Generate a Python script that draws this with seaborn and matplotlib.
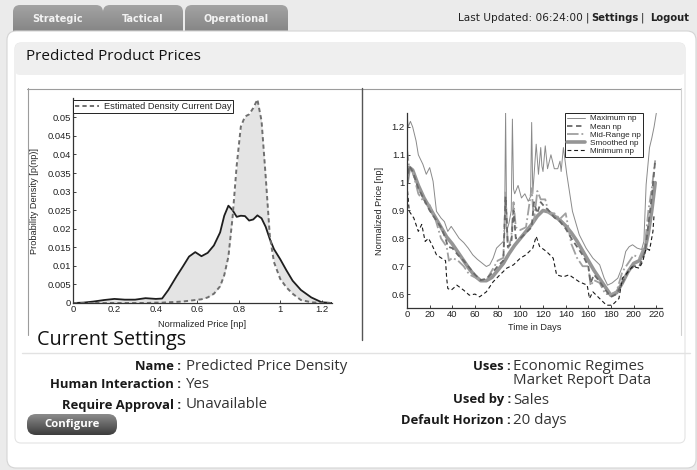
import numpy as np
import matplotlib.pyplot as plt
import seaborn as sns
from matplotlib.patches import FancyBboxPatch
from matplotlib.lines import Line2D
from matplotlib.colors import LinearSegmentedColormap

sns.set_style("white")
plt.rcParams['font.family'] = ['DejaVu Sans']

# left chart: price density, historical (solid) vs current day (dashed)
price_grid = [0, 0.05, 0.1, 0.15, 0.2, 0.25, 0.3, 0.35, 0.4, 0.43, 0.46, 0.5, 0.53, 0.56,
              0.59, 0.62, 0.65, 0.68, 0.71, 0.73, 0.75, 0.77, 0.79, 0.81, 0.83, 0.85, 0.87,
              0.89, 0.91, 0.93, 0.95, 0.97, 1.0, 1.03, 1.06, 1.1, 1.15, 1.2, 1.25]
density_history = [0, 0.0001, 0.0004, 0.0008, 0.0011, 0.0009, 0.0009, 0.0013, 0.0011, 0.0012,
                   0.0035, 0.0072, 0.0098, 0.0125, 0.0137, 0.0126, 0.0135, 0.0155, 0.019, 0.0235,
                   0.0262, 0.025, 0.0232, 0.0235, 0.0234, 0.0222, 0.0225, 0.0236, 0.0228, 0.0205,
                   0.0172, 0.0145, 0.0118, 0.0088, 0.006, 0.0035, 0.0015, 0.0002, 0]
density_current = [0, 0, 0, 0, 0, 0, 0, 0, 0.0001, 0.0001, 0.0002, 0.0003, 0.0004, 0.0006,
                   0.0008, 0.001, 0.0015, 0.0025, 0.0045, 0.0075, 0.0125, 0.023, 0.037, 0.0475,
                   0.0502, 0.0508, 0.0525, 0.0548, 0.049, 0.034, 0.018, 0.011, 0.0065, 0.0042,
                   0.0025, 0.0008, 0.0002, 0, 0]
density_yticks = [0, 0.005, 0.01, 0.015, 0.02, 0.025, 0.03, 0.035, 0.04, 0.045, 0.05]
density_ylabels = ["0", "0.005", "0.01", "0.015", "0.02", "0.025", "0.03", "0.035", "0.04", "0.045", "0.05"]
price_xticks = [0, 0.2, 0.4, 0.6, 0.8, 1.0, 1.2]
price_xlabels = ["0", "0.2", "0.4", "0.6", "0.8", "1", "1.2"]

# right chart: normalized price over time
max_days = [0, 1, 3, 5, 8, 10, 14, 17, 20, 23, 26, 30, 33, 36, 39, 42, 46, 50, 54, 58,
            62, 66, 70, 73, 76, 79, 82, 85, 86, 87, 88, 90, 92, 93, 94, 95, 98, 101, 104, 107,
            109, 110, 111, 113, 114, 116, 118, 119, 120, 122, 124, 127, 130, 133, 135, 136, 138, 141, 146, 152,
            158, 164, 170, 174, 177, 181, 186, 190, 193, 196, 199, 203, 207, 209, 211, 214, 216, 218, 220]
max_np = [1.25, 1.2, 1.22, 1.2, 1.15, 1.10, 1.066, 1.03, 1.054, 1.005, 0.897, 0.873, 0.86, 0.825, 0.843, 0.825, 0.80, 0.785, 0.765, 0.741,
          0.725, 0.712, 0.699, 0.705, 0.729, 0.765, 0.777, 0.789, 0.80, 1.25, 0.825, 0.855, 0.90, 1.228, 0.977, 0.96, 0.99, 0.945, 0.96, 0.933,
          0.95, 1.216, 0.96, 1.08, 1.138, 1.03, 1.126, 1.06, 1.04, 1.132, 1.05, 1.10, 1.05, 1.05, 1.077, 1.04, 1.126, 1.03, 0.897, 0.813,
          0.765, 0.729, 0.705, 0.657, 0.632, 0.64, 0.657, 0.699, 0.753, 0.77, 0.777, 0.765, 0.76, 0.789, 0.993, 1.126, 1.16, 1.20, 1.25]

min_days = [0, 2, 6, 10, 13, 16, 19, 22, 26, 30, 34, 35, 36, 39, 44, 50, 55, 60, 64, 70,
            76, 82, 88, 94, 100, 105, 111, 114, 117, 123, 129, 132, 138, 143, 152, 159, 161, 164, 170, 176,
            181, 187, 190, 193, 199, 205, 208, 211, 214, 217, 218]
min_np = [0.993, 0.897, 0.873, 0.825, 0.85, 0.789, 0.80, 0.777, 0.741, 0.73, 0.72, 0.657, 0.62, 0.614, 0.632, 0.614, 0.596, 0.60, 0.59, 0.608,
          0.644, 0.669, 0.693, 0.705, 0.729, 0.741, 0.765, 0.807, 0.771, 0.753, 0.729, 0.669, 0.662, 0.669, 0.644, 0.632, 0.584, 0.608, 0.584, 0.56,
          0.56, 0.584, 0.657, 0.67, 0.699, 0.693, 0.717, 0.765, 0.757, 0.825, 0.885]

mean_days = [0, 2, 5, 10, 15, 20, 25, 30, 34, 36, 40, 45, 50, 55, 60, 65, 70, 75, 80, 85,
             87, 89, 92, 94, 96, 100, 105, 110, 112, 115, 118, 120, 125, 130, 135, 140, 145, 150, 155, 160,
             162, 165, 170, 175, 180, 185, 190, 195, 200, 205, 210, 213, 216, 219]
mean_np = [1.0, 1.06, 1.04, 0.98, 0.94, 0.90, 0.87, 0.84, 0.80, 0.77, 0.765, 0.74, 0.72, 0.695, 0.67, 0.65, 0.655, 0.675, 0.70, 0.72,
           0.95, 0.77, 0.78, 0.90, 0.80, 0.80, 0.82, 0.84, 0.93, 0.89, 0.93, 0.92, 0.90, 0.875, 0.86, 0.835, 0.80, 0.77, 0.74, 0.70,
           0.64, 0.67, 0.645, 0.615, 0.59, 0.60, 0.64, 0.68, 0.70, 0.70, 0.75, 0.85, 0.95, 1.08]

mid_days = [0, 2, 5, 10, 15, 20, 25, 30, 35, 37, 40, 45, 50, 55, 60, 65, 70, 75, 80, 85,
            87, 89, 92, 94, 96, 100, 105, 110, 112, 115, 118, 122, 125, 130, 135, 140, 145, 150, 155, 160,
            162, 165, 170, 175, 180, 185, 190, 195, 200, 205, 210, 213, 216, 219]
mid_np = [1.12, 1.05, 1.04, 0.96, 0.93, 0.92, 0.87, 0.80, 0.77, 0.72, 0.73, 0.72, 0.70, 0.67, 0.66, 0.65, 0.65, 0.685, 0.72, 0.73,
          0.97, 0.76, 0.80, 0.93, 0.84, 0.83, 0.84, 0.98, 0.86, 0.97, 0.94, 0.94, 0.89, 0.89, 0.87, 0.89, 0.78, 0.73, 0.70, 0.70,
          0.63, 0.65, 0.64, 0.60, 0.60, 0.61, 0.68, 0.71, 0.74, 0.73, 0.78, 0.90, 0.98, 1.08]

smooth_days = [0, 2, 5, 10, 15, 20, 25, 30, 35, 40, 45, 50, 55, 60, 65, 70, 75, 80, 85, 90,
               95, 100, 105, 110, 115, 120, 125, 130, 135, 140, 145, 150, 155, 160, 165, 170, 175, 180, 185, 190,
               195, 200, 205, 210, 213, 216, 219]
smooth_np = [1.0, 1.055, 1.045, 0.99, 0.945, 0.91, 0.875, 0.84, 0.805, 0.78, 0.75, 0.72, 0.69, 0.665, 0.648, 0.648, 0.66, 0.685, 0.71, 0.745,
             0.775, 0.80, 0.825, 0.85, 0.88, 0.90, 0.895, 0.88, 0.865, 0.845, 0.82, 0.79, 0.755, 0.72, 0.685, 0.655, 0.625, 0.595, 0.605, 0.64,
             0.68, 0.71, 0.72, 0.76, 0.82, 0.90, 1.0]
time_xticks = [0, 20, 40, 60, 80, 100, 120, 140, 160, 180, 200, 220]
price_yticks = [0.6, 0.7, 0.8, 0.9, 1.0, 1.1, 1.2]
price_ylabels = ["0.6", "0.7", "0.8", "0.9", "1", "1.1", "1.2"]

# page text
tab_labels = ["Strategic", "Tactical", "Operational"]
settings_left = [("Name :", "Predicted Price Density"),
                 ("Human Interaction :", "Yes"),
                 ("Require Approval :", "Unavailable")]
settings_right = [("Uses :", "Economic Regimes"),
                  ("", "Market Report Data"),
                  ("Used by :", "Sales"),
                  ("Default Horizon :", "20 days")]

W, H = 697, 470
fig = plt.figure(figsize=(W / 100, H / 100), dpi=100)
fig.patch.set_facecolor('#ebebeb')

bg = fig.add_axes([0, 0, 1, 1])
bg.set_xlim(0, W)
bg.set_ylim(H, 0)
bg.axis('off')


def box(x, y, w, h, r, fc, ec='none', lw=0.8, z=1):
    p = FancyBboxPatch((x, y), w, h, boxstyle=f"round,pad=0,rounding_size={r}",
                       fc=fc, ec=ec, lw=lw, zorder=z)
    bg.add_patch(p)
    return p


def gradient_box(x, y, w, h, r, top, bottom, z=1):
    p = box(x, y, w, h, r, 'none', z=z)
    cmap = LinearSegmentedColormap.from_list('g', [top, bottom])
    im = bg.imshow(np.linspace(0, 1, 64).reshape(-1, 1), extent=[x, x + w, y + h, y],
                   cmap=cmap, aspect='auto', zorder=z)
    im.set_clip_path(p)


# tabs
tab_x = [13, 103, 185]
tab_w = [90, 80, 103]
for lbl, tx, tw in zip(tab_labels, tab_x, tab_w):
    gradient_box(tx, 5, tw, 34, 7, '#a3a3a3', '#7d7d7d', z=1)
    bg.text(tx + tw / 2, 18.5, lbl, ha='center', va='center', color='#f2f2f2',
            fontsize=7, fontweight='bold', zorder=3)

# header right
hdr = dict(va='center', fontsize=7.2, color='#222222', zorder=3)
bg.text(583, 18, "Last Updated: 06:24:00", ha='right', fontsize=7.6, va='center',
        color='#222222', zorder=3)
bg.text(587, 18, "|", ha='center', **hdr)
bg.text(591, 18, "Settings", ha='left', fontweight='bold', **hdr)
bg.text(642, 18, "|", ha='center', **hdr)
bg.text(689, 18, "Logout", ha='right', fontweight='bold', **hdr)

# main panel and card
box(7, 31, 689, 437, 9, 'white', ec='#d4d4d4', z=2)
box(15, 43, 670, 400, 6, 'white', ec='#e4e4e4', z=2)
box(15, 43, 670, 32, 5, '#efefef', z=2)
bg.text(26, 57, "Predicted Product Prices", ha='left', va='center', fontsize=11,
        family='Open Sans', color='#111111', zorder=3)

# chart frames
frame = dict(color='#9c9c9c', lw=0.8, zorder=3)
bg.plot([27, 681], [88.5, 88.5], **frame)
bg.plot([27.5, 27.5], [88, 335], **frame)
bg.plot([681, 681], [88, 335], color='#d0d0d0', lw=0.8, zorder=3)
bg.plot([362, 362], [88, 340], color='#555555', lw=1, zorder=3)

# current settings
bg.text(37, 340, "Current Settings", ha='left', va='center', fontsize=14.2,
        family='Open Sans', color='#111111', zorder=3)
bg.plot([22, 690], [352.5, 352.5], color='#e2e2e2', lw=1, zorder=3)

lab = dict(ha='right', va='center', fontsize=9.4, fontweight='bold', family='Open Sans',
           color='#1a1a1a', zorder=3)
val = dict(ha='left', va='center', fontsize=10.8, family='Open Sans', color='#333333', zorder=3)
for (k, v), yy in zip(settings_left, [366, 385, 405]):
    bg.text(181, yy, k, **lab)
    bg.text(186, yy, v, **val)
for (k, v), yy in zip(settings_right, [366, 381, 400, 420]):
    if k:
        bg.text(511, yy, k, **lab)
    bg.text(513, yy, v, **val)

gradient_box(27, 414, 90, 21, 9, '#8c8c8c', '#3c3c3c', z=3)
bg.text(72, 424.5, "Configure", ha='center', va='center', fontsize=8.2, fontweight='bold',
        color='white', family='Open Sans', zorder=4)

bg.set_xlim(0, W)
bg.set_ylim(H, 0)

tick_font = dict(family='Liberation Sans')


def style_axes(ax):
    sns.despine(ax=ax)
    for s in ['left', 'bottom']:
        ax.spines[s].set_color('#333333')
        ax.spines[s].set_linewidth(0.9)
    ax.tick_params(direction='in', length=2.5, width=0.6, labelsize=6.8, pad=1.5,
                   left=True, bottom=True, colors='#222222')
    for t in ax.get_xticklabels() + ax.get_yticklabels():
        t.set_family('Liberation Sans')
    ax.set_facecolor('none')


# left density chart
ax1 = fig.add_axes([73 / W, 1 - 303 / H, 259 / W, 205 / H])
ax1.fill_between(price_grid, density_history, density_current, color='#e4e4e4', lw=0)
sns.lineplot(x=price_grid, y=density_history, ax=ax1, color='#1e1e1e', lw=1.3,
             estimator=None, sort=False)
sns.lineplot(x=price_grid, y=density_current, ax=ax1, color='#6f6f6f', lw=1.4,
             linestyle=(0, (2.2, 1.6)), estimator=None, sort=False)
ax1.set_xlim(0, 1.25)
ax1.set_ylim(0, 0.0552)
ax1.set_xticks(price_xticks)
ax1.set_xticklabels(price_xlabels)
ax1.set_yticks(density_yticks)
ax1.set_yticklabels(density_ylabels)
style_axes(ax1)
ax1.set_xlabel("Normalized Price [np]", fontsize=6.6, **tick_font)
ax1.set_ylabel("Probability Density [p(np)]", fontsize=6.6, **tick_font)
ax1.xaxis.set_label_coords(0.5, -0.085)
ax1.yaxis.set_label_coords(-0.13, 0.5)
leg1 = ax1.legend(handles=[Line2D([], [], color='#6f6f6f', lw=1.4, ls=(0, (2.2, 1.6)))],
                  labels=["Estimated Density Current Day"], loc='upper left',
                  bbox_to_anchor=(0.0, 0.99), borderaxespad=0,
                  fancybox=False, edgecolor='#222222', framealpha=1,
                  borderpad=0.2, handlelength=2.6, handletextpad=0.5,
                  prop={'family': 'Liberation Sans', 'size': 6.7})
leg1.get_frame().set_linewidth(0.7)

# right time series chart
ax2 = fig.add_axes([407 / W, 1 - 308 / H, 255 / W, 195 / H])
sns.lineplot(x=max_days, y=max_np, ax=ax2, color='#8a8a8a', lw=0.7, estimator=None, sort=False)
sns.lineplot(x=smooth_days, y=smooth_np, ax=ax2, color='#959595', lw=2.6, estimator=None, sort=False)
sns.lineplot(x=mid_days, y=mid_np, ax=ax2, color='#a0a0a0', lw=1.3, linestyle='-.',
             estimator=None, sort=False)
sns.lineplot(x=mean_days, y=mean_np, ax=ax2, color='#6a6a6a', lw=1.3, linestyle=(0, (3, 2)),
             estimator=None, sort=False)
sns.lineplot(x=min_days, y=min_np, ax=ax2, color='#1a1a1a', lw=0.8, linestyle=(0, (3.5, 2.5)),
             estimator=None, sort=False)
ax2.set_xlim(0, 225)
ax2.set_ylim(0.55, 1.25)
ax2.set_xticks(time_xticks)
ax2.set_yticks(price_yticks)
ax2.set_yticklabels(price_ylabels)
style_axes(ax2)
ax2.set_xlabel("Time in Days", fontsize=6.6, **tick_font)
ax2.set_ylabel("Normalized Price [np]", fontsize=6.6, **tick_font)
ax2.xaxis.set_label_coords(0.5, -0.077)
ax2.yaxis.set_label_coords(-0.09, 0.5)
handles = [Line2D([], [], color='#8a8a8a', lw=0.7),
           Line2D([], [], color='#6a6a6a', lw=1.3, ls=(0, (3, 2))),
           Line2D([], [], color='#a0a0a0', lw=1.3, ls='-.'),
           Line2D([], [], color='#959595', lw=2.6),
           Line2D([], [], color='#1a1a1a', lw=0.8, ls=(0, (3.5, 2.5)))]
leg2 = ax2.legend(handles=handles,
                  labels=["Maximum np", "Mean np", "Mid-Range np", "Smoothed np", "Minimum np"],
                  loc='upper right', bbox_to_anchor=(0.925, 1.0), borderaxespad=0,
                  fancybox=False, edgecolor='#222222', framealpha=1,
                  borderpad=0.2, labelspacing=0.05, handlelength=2.2, handletextpad=0.7,
                  prop={'family': 'Liberation Sans', 'size': 5.9})
leg2.get_frame().set_linewidth(0.7)

fig.savefig("out.png", dpi=100, facecolor=fig.get_facecolor())
